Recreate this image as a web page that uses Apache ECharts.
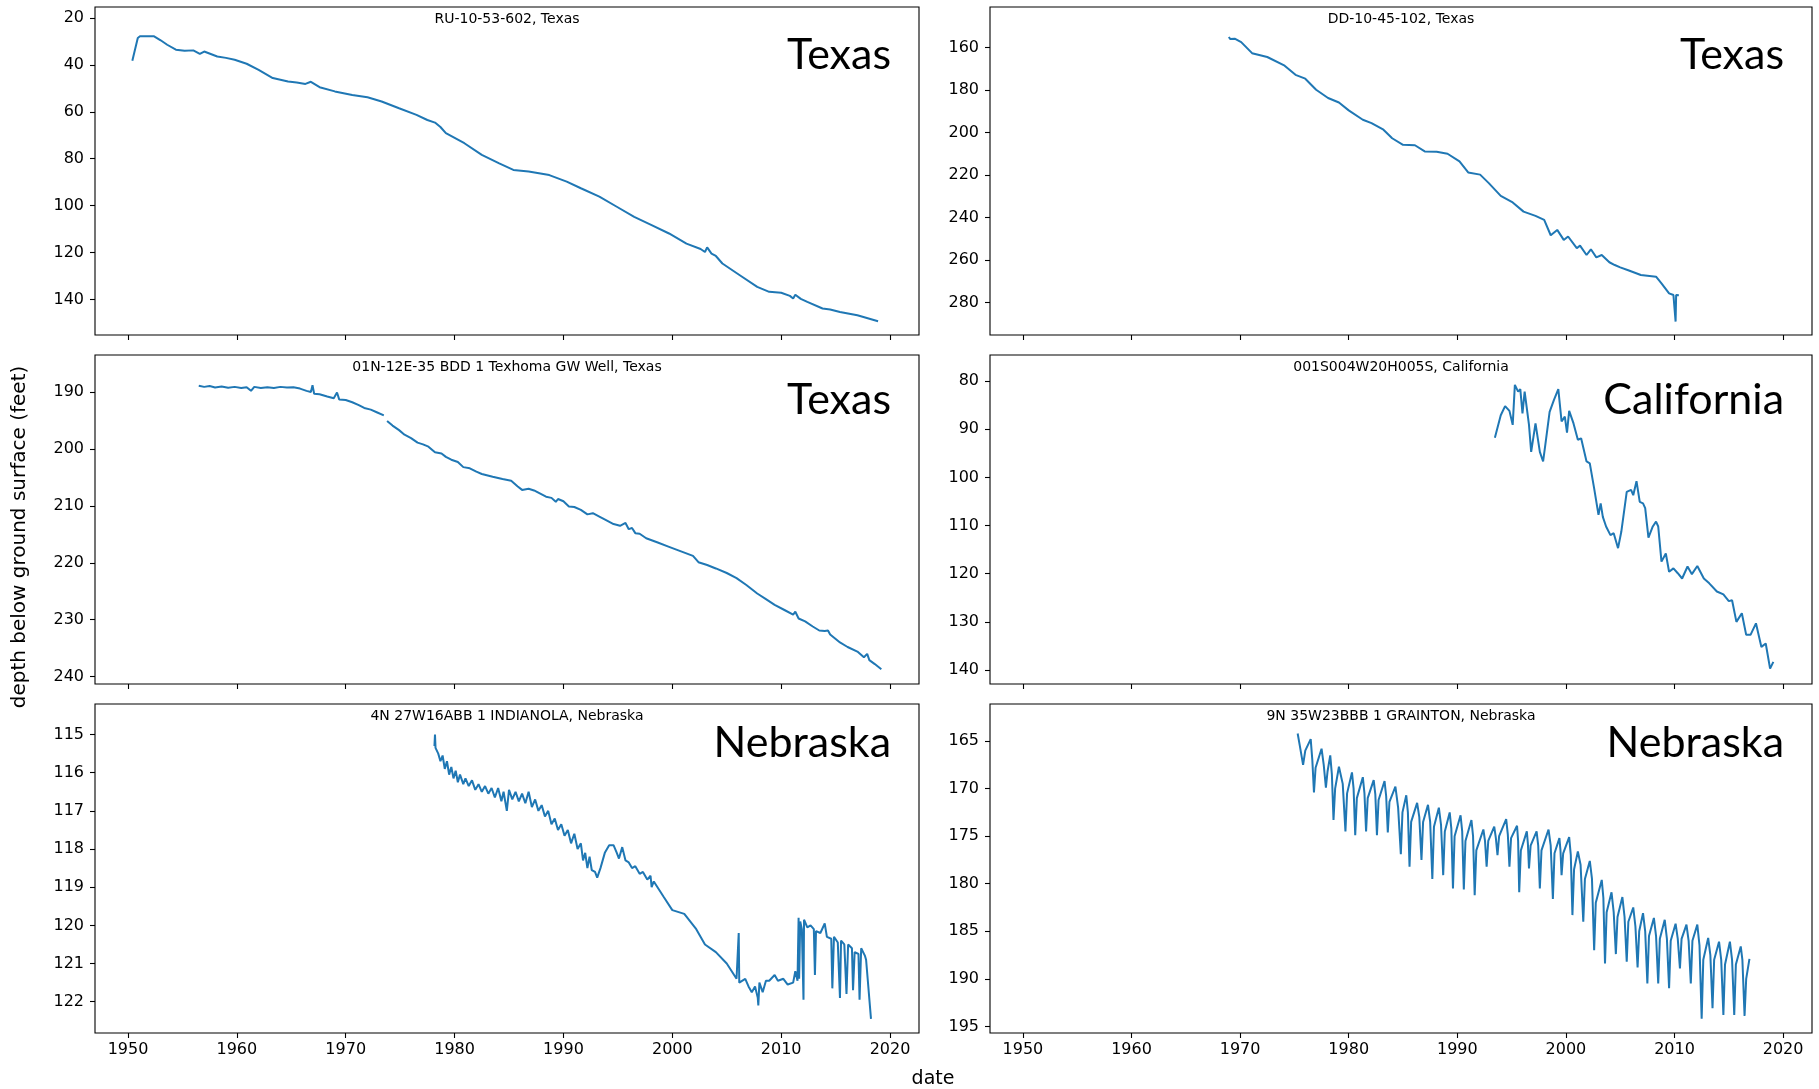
<!DOCTYPE html>
<html>
<head>
<meta charset="utf-8">
<title>Groundwater depth at six wells</title>
<script src="https://cdn.jsdelivr.net/npm/echarts@6/dist/echarts.min.js"></script>
<style>
  html, body { margin: 0; padding: 0; background: #fff; }
  #chart { width: 1819px; height: 1089px; }
</style>
</head>
<body>
<div id="chart"></div>
<script>
// ---- Well records: decimal year and depth below ground surface (feet) ----
const wellNames = [
  'RU-10-53-602, Texas',
  'DD-10-45-102, Texas',
  '01N-12E-35 BDD 1 Texhoma GW Well, Texas',
  '001S004W20H005S, California',
  '4N 27W16ABB 1 INDIANOLA, Nebraska',
  '9N 35W23BBB 1 GRAINTON, Nebraska'
];
const stateNames = ['Texas', 'Texas', 'Texas', 'California', 'Nebraska', 'Nebraska'];

const ruYears = [1950.4,1950.9,1951.1,1952.4,1953.0,1953.6,1954.4,1955.2,1956.0,1956.6,1957.0,1958.2,1959.0,1959.8,1960.9,1962.0,1963.3,1964.0,1964.7,1965.5,1966.3,1966.8,1967.6,1969.0,1970.6,1972.0,1973.3,1974.9,1976.5,1977.5,1978.2,1978.7,1979.2,1980.9,1982.5,1984.1,1985.4,1986.8,1988.7,1990.3,1991.6,1993.3,1994.9,1996.5,1998.1,1999.7,2001.3,2002.6,2003.0,2003.2,2003.6,2004.0,2004.6,2006.2,2007.8,2008.9,2010.0,2010.8,2011.1,2011.3,2011.8,2012.4,2013.8,2014.5,2015.4,2017.0,2018.9];
const ruDepths = [38.2,28.5,27.8,27.8,29.5,31.4,33.5,34.0,33.8,35.3,34.3,36.4,37.0,37.8,39.5,42.1,45.6,46.3,47.1,47.5,48.1,47.2,49.5,51.3,52.8,53.8,55.6,58.5,61.3,63.5,64.6,66.5,69.1,73.4,78.4,82.0,84.8,85.5,87.0,89.8,92.6,96.2,100.5,104.8,108.3,111.9,116.2,118.5,119.8,117.8,120.5,121.5,124.7,129.7,134.7,136.8,137.2,138.5,139.6,138.0,139.8,141.1,143.9,144.3,145.4,146.8,149.3];

const ddYears = [1968.96,1969.1,1969.5,1970.1,1971.1,1972.5,1974.1,1975.1,1976.0,1977.0,1978.1,1979.1,1980.0,1981.3,1982.1,1983.2,1984.0,1985.0,1986.1,1987.0,1988.1,1989.1,1990.2,1991.0,1992.1,1992.9,1994.0,1995.1,1996.1,1997.2,1998.0,1998.6,1999.2,1999.8,2000.2,2001.0,2001.3,2001.9,2002.3,2002.8,2003.3,2004.0,2004.5,2005.0,2005.8,2006.9,2008.3,2008.8,2009.5,2009.9,2010.1,2010.15,2010.4];
const ddDepths = [155.1,156.1,155.9,157.5,162.7,164.5,168.6,172.9,174.7,179.9,183.8,185.9,189.6,194.0,195.6,198.7,202.7,205.8,206.0,208.9,209.1,210.0,213.6,218.8,219.8,223.8,229.8,232.9,237.2,239.2,241.1,248.3,245.8,250.5,248.9,254.4,253.2,257.6,254.9,258.7,257.6,261.0,262.3,263.4,264.9,267.0,267.8,270.9,275.6,276.4,288.9,276.4,276.5];

const texhomaYears = [1956.5,1957.0,1957.5,1958.0,1958.6,1959.2,1959.8,1960.4,1960.9,1961.3,1961.6,1962.2,1962.8,1963.4,1964.0,1964.6,1965.2,1965.8,1966.4,1966.8,1966.95,1967.1,1967.6,1968.3,1968.9,1969.2,1969.4,1970.0,1970.6,1971.2,1971.7,1972.3,1972.9,1973.5,1973.65,1973.8,1974.3,1974.9,1975.4,1976.0,1976.6,1977.1,1977.6,1978.2,1978.8,1979.2,1979.7,1980.3,1980.8,1981.4,1982.0,1982.5,1983.5,1984.4,1985.2,1985.8,1986.2,1986.8,1987.3,1988.4,1988.9,1989.3,1989.5,1990.0,1990.5,1991.0,1991.6,1992.2,1992.7,1993.3,1994.0,1994.6,1995.2,1995.7,1996.0,1996.3,1996.6,1997.0,1997.6,1998.6,1999.7,2000.8,2001.9,2002.4,2003.2,2004.0,2005.0,2005.9,2006.8,2007.8,2008.6,2009.4,2010.3,2011.1,2011.3,2011.6,2012.2,2012.9,2013.5,2014.0,2014.3,2014.5,2015.4,2016.1,2017.0,2017.6,2017.9,2018.1,2018.6,2019.2];
const texhomaDepths = [188.9,189.1,188.95,189.2,189.05,189.25,189.1,189.3,189.15,189.8,189.1,189.3,189.15,189.3,189.1,189.2,189.15,189.4,189.8,190.0,188.8,190.3,190.4,190.8,191.1,190.1,191.3,191.4,191.8,192.3,192.8,193.1,193.6,194.1,'-',195.1,195.9,196.7,197.5,198.1,198.9,199.2,199.6,200.6,200.8,201.4,201.9,202.3,203.2,203.4,204.0,204.4,204.9,205.3,205.6,206.6,207.2,207.0,207.3,208.4,208.6,209.3,208.8,209.2,210.1,210.2,210.7,211.5,211.3,211.9,212.6,213.2,213.5,213.0,214.1,213.9,214.8,214.9,215.7,216.4,217.2,218.0,218.8,219.9,220.4,221.0,221.8,222.7,223.9,225.4,226.4,227.4,228.3,229.1,228.6,229.8,230.3,231.2,231.9,232.0,231.9,232.6,234.0,234.8,235.6,236.6,236.0,237.1,237.8,238.7];

const caYears = [1993.46,1994.0,1994.4,1994.8,1995.1,1995.3,1995.6,1995.8,1996.0,1996.2,1996.6,1996.8,1997.2,1997.6,1997.9,1998.1,1998.5,1998.9,1999.3,1999.6,1999.9,2000.1,2000.3,2000.7,2001.1,2001.4,2001.9,2002.2,2002.6,2003.0,2003.2,2003.4,2003.7,2004.1,2004.4,2004.8,2005.1,2005.6,2006.0,2006.2,2006.5,2006.8,2007.1,2007.3,2007.6,2008.0,2008.3,2008.5,2008.8,2009.2,2009.5,2009.9,2010.3,2010.7,2011.2,2011.6,2012.1,2012.7,2013.2,2013.9,2014.5,2015.0,2015.3,2015.7,2016.2,2016.6,2017.0,2017.5,2018.0,2018.4,2018.8,2019.1];
const caDepths = [91.8,87.1,85.2,86.2,89.1,80.8,82.2,81.7,86.7,82.2,89.1,94.7,88.8,94.7,96.7,93.3,86.4,83.9,81.7,88.4,87.4,90.7,86.2,88.8,92.2,91.9,96.7,97.1,102.3,107.8,105.4,108.2,110.2,112.0,111.6,114.7,111.3,103.0,102.6,103.7,100.8,105.1,105.4,106.4,112.5,110.2,109.2,110.2,117.5,115.8,119.6,118.9,119.9,121.0,118.5,120.1,118.4,121.0,122.0,123.7,124.3,125.7,125.5,130.0,128.2,132.7,132.7,130.3,135.2,134.5,139.7,138.3];

const indianolaYears = [1978.15,1978.2,1978.25,1978.5,1978.7,1978.9,1979.1,1979.3,1979.5,1979.7,1979.9,1980.1,1980.3,1980.5,1980.8,1981.0,1981.3,1981.6,1981.9,1982.2,1982.5,1982.8,1983.1,1983.4,1983.7,1984.0,1984.3,1984.5,1984.8,1985.0,1985.3,1985.6,1985.9,1986.2,1986.5,1986.8,1987.1,1987.4,1987.7,1988.0,1988.3,1988.6,1988.9,1989.2,1989.5,1989.8,1990.1,1990.4,1990.7,1991.0,1991.3,1991.6,1991.8,1992.0,1992.2,1992.4,1992.6,1992.9,1993.1,1993.4,1993.8,1994.2,1994.6,1994.9,1995.1,1995.4,1995.7,1996.0,1996.3,1996.6,1997.0,1997.3,1997.7,1998.0,1998.1,1998.3,1999.2,2000.0,2001.1,2002.2,2003.0,2004.0,2005.0,2005.9,2006.05,2006.1,2006.15,2006.7,2007.0,2007.3,2007.6,2007.85,2007.9,2008.0,2008.3,2008.6,2008.9,2009.4,2009.7,2010.2,2010.6,2011.1,2011.3,2011.5,2011.6,2011.65,2011.75,2011.9,2012.05,2012.1,2012.4,2012.7,2013.0,2013.1,2013.2,2013.6,2014.0,2014.2,2014.6,2014.7,2014.85,2015.2,2015.4,2015.5,2015.8,2016.0,2016.15,2016.5,2016.6,2016.75,2017.1,2017.2,2017.35,2017.7,2017.8,2018.25];
const indianolaDepths = [115.3,115.0,115.35,115.5,115.7,115.55,115.9,115.7,116.05,115.85,116.15,115.95,116.25,116.05,116.3,116.15,116.35,116.2,116.45,116.3,116.5,116.35,116.55,116.4,116.65,116.4,116.75,116.5,117.0,116.45,116.7,116.5,116.75,116.55,116.8,116.5,116.9,116.7,117.0,116.85,117.15,117.0,117.35,117.2,117.5,117.35,117.65,117.5,117.85,117.6,118.0,117.85,118.3,118.1,118.5,118.2,118.55,118.6,118.75,118.5,118.1,117.9,117.9,118.1,118.25,117.95,118.3,118.35,118.5,118.45,118.65,118.6,118.8,118.7,119.0,118.85,119.25,119.6,119.7,120.1,120.5,120.7,121.0,121.4,121.35,120.2,121.5,121.4,121.6,121.75,121.6,121.9,122.1,121.5,121.75,121.45,121.45,121.3,121.45,121.4,121.55,121.5,121.2,121.45,119.8,121.4,119.9,120.1,121.95,119.85,120.05,120.0,120.1,121.3,120.15,120.2,119.95,120.3,120.35,121.65,120.3,120.45,121.9,120.4,120.5,121.8,120.5,120.6,121.7,120.7,120.75,121.95,120.6,120.8,120.9,122.45];

const graintonYears = [1975.3,1975.5,1975.8,1976.0,1976.5,1976.65,1976.8,1976.95,1977.5,1977.7,1977.9,1978.05,1978.3,1978.45,1978.6,1978.75,1979.1,1979.45,1979.7,1979.85,1980.3,1980.45,1980.6,1980.75,1981.3,1981.45,1981.6,1981.75,1982.3,1982.45,1982.6,1982.75,1983.3,1983.45,1983.6,1983.75,1984.3,1984.55,1984.8,1984.95,1985.3,1985.45,1985.6,1985.75,1986.3,1986.5,1986.7,1986.85,1987.3,1987.5,1987.7,1987.85,1988.3,1988.5,1988.7,1988.85,1989.3,1989.45,1989.6,1989.75,1990.3,1990.45,1990.6,1990.75,1991.3,1991.45,1991.6,1991.75,1992.4,1992.55,1992.7,1992.85,1993.4,1993.55,1993.7,1993.85,1994.5,1994.65,1994.8,1994.95,1995.5,1995.6,1995.7,1995.85,1996.4,1996.5,1996.6,1996.75,1997.3,1997.45,1997.6,1997.75,1998.4,1998.6,1998.8,1998.95,1999.4,1999.5,1999.6,1999.75,2000.3,2000.45,2000.6,2000.75,2001.1,2001.35,2001.6,2001.75,2002.2,2002.4,2002.6,2002.75,2003.3,2003.45,2003.6,2003.75,2004.2,2004.4,2004.6,2004.75,2005.2,2005.4,2005.6,2005.75,2006.2,2006.4,2006.6,2006.75,2007.1,2007.3,2007.5,2007.65,2008.1,2008.3,2008.5,2008.65,2009.1,2009.3,2009.5,2009.65,2010.1,2010.3,2010.5,2010.65,2011.1,2011.3,2011.5,2011.65,2012.1,2012.3,2012.5,2012.65,2013.1,2013.3,2013.5,2013.65,2014.1,2014.3,2014.5,2014.65,2015.1,2015.3,2015.5,2015.65,2016.1,2016.25,2016.45,2016.6,2016.9];
const graintonDepths = [164.2,165.5,167.5,166.0,164.8,167.0,170.4,167.8,165.8,167.5,169.9,168.2,166.5,168.5,173.3,170.0,167.7,169.5,174.5,170.5,168.3,170.0,174.9,171.0,168.8,170.5,174.5,171.0,169.1,170.6,174.9,171.2,169.2,170.8,174.6,171.4,169.8,172.0,176.9,172.5,170.7,172.5,178.2,173.5,171.5,173.0,177.5,173.5,171.7,173.5,179.5,174.0,172.0,173.8,179.1,174.5,172.5,174.2,180.5,175.0,172.8,174.5,180.6,175.5,173.3,175.0,181.2,176.5,174.3,175.5,178.2,175.5,174.0,175.2,177.0,175.0,173.2,174.8,178.2,175.2,173.9,175.5,180.9,176.5,174.5,175.8,178.4,176.0,174.5,176.0,180.5,176.5,174.3,176.0,181.6,176.8,175.2,176.5,179.1,176.8,175.1,177.0,183.3,178.5,176.6,178.0,184.0,179.5,177.6,179.5,187.0,182.0,179.6,181.5,188.4,183.0,180.9,183.0,187.4,183.5,181.4,183.5,188.2,184.0,182.5,184.5,188.8,185.0,183.1,185.0,190.5,185.5,183.6,185.5,190.5,185.8,183.8,185.8,191.0,186.0,184.2,185.8,188.9,185.8,184.3,186.0,190.5,186.0,184.3,186.5,194.2,188.0,185.7,187.5,193.1,188.0,186.1,188.0,193.8,188.5,186.1,188.0,193.8,188.5,186.6,188.0,193.9,190.0,187.9];

// ---- Axis extents and tick values ----
const yearTicks = [1950, 1960, 1970, 1980, 1990, 2000, 2010, 2020];
const yearMin = 1946.97, yearMax = 2022.66;
const depthMins = [15.3, 141.0, 183.5, 74.6, 114.2, 161.1];
const depthMaxs = [155.2, 295.2, 241.3, 142.9, 122.82, 195.7];
const depthTicks = [
  [20, 40, 60, 80, 100, 120, 140],
  [160, 180, 200, 220, 240, 260, 280],
  [190, 200, 210, 220, 230, 240],
  [80, 90, 100, 110, 120, 130, 140],
  [115, 116, 117, 118, 119, 120, 121, 122],
  [165, 170, 175, 180, 185, 190, 195]
];

const seriesYears = [ruYears, ddYears, texhomaYears, caYears, indianolaYears, graintonYears];
const seriesDepths = [ruDepths, ddDepths, texhomaDepths, caDepths, indianolaDepths, graintonDepths];

// ---- Panel layout (pixels) ----
const panels = [
  { left: 95,  top: 7,   width: 824, height: 328 },
  { left: 990, top: 7,   width: 822, height: 328 },
  { left: 95,  top: 355, width: 824, height: 329 },
  { left: 990, top: 355, width: 822, height: 329 },
  { left: 95,  top: 704, width: 824, height: 329 },
  { left: 990, top: 704, width: 822, height: 329 }
];
const stateBottomOffsets = [70, 70, 67, 67, 61, 61];

const tickFont = { fontFamily: 'DejaVu Sans', fontSize: 16, color: '#000' };
const plainNumber = v => String(v);

const grids = [], xAxes = [], yAxes = [], series = [], graphics = [];
panels.forEach((p, i) => {
  grids.push({
    left: p.left, top: p.top, width: p.width, height: p.height,
    show: true, borderColor: '#000', borderWidth: 1.1, backgroundColor: '#fff',
    containLabel: false
  });
  const bottomRow = i >= 4;
  xAxes.push({
    gridIndex: i, type: 'value', min: yearMin, max: yearMax,
    axisLine: { show: false },
    splitLine: { show: false },
    axisTick: { show: true, inside: false, length: 5, lineStyle: { color: '#000', width: 1.1 }, customValues: yearTicks },
    axisLabel: Object.assign({ show: bottomRow, margin: 9, customValues: yearTicks, formatter: plainNumber }, tickFont)
  });
  yAxes.push({
    gridIndex: i, type: 'value', inverse: true,
    min: depthMins[i], max: depthMaxs[i],
    axisLine: { show: false },
    splitLine: { show: false },
    axisTick: { show: true, inside: false, length: 5, lineStyle: { color: '#000', width: 1.1 }, customValues: depthTicks[i] },
    axisLabel: Object.assign({ show: true, margin: 11, customValues: depthTicks[i], formatter: plainNumber }, tickFont)
  });
  series.push({
    type: 'line', xAxisIndex: i, yAxisIndex: i,
    data: seriesYears[i].map((yr, k) => [yr, seriesDepths[i][k]]),
    showSymbol: false, symbol: 'none',
    connectNulls: false,
    lineStyle: { color: '#1f77b4', width: 2 },
    itemStyle: { color: '#1f77b4' },
    clip: true
  });
  // well name above each panel's plot area
  graphics.push({
    type: 'text', x: p.left + p.width / 2, y: p.top + 12,
    style: { text: wellNames[i], fill: '#000', font: '14px "DejaVu Sans"', textAlign: 'center', textVerticalAlign: 'middle' },
    z: 10
  });
  // large state name in the upper right corner
  graphics.push({
    type: 'text', x: p.left + p.width - 28, y: p.top + stateBottomOffsets[i],
    style: { text: stateNames[i], fill: '#000', font: '43px Lato', textAlign: 'right', textVerticalAlign: 'bottom' },
    z: 10
  });
});

// shared axis titles
graphics.push({
  type: 'text', x: 20, y: 537, rotation: Math.PI / 2,
  style: { text: 'depth below ground surface (feet)', fill: '#000', font: '20px "DejaVu Sans"', textAlign: 'center', textVerticalAlign: 'middle' }
});
graphics.push({
  type: 'text', x: 933, y: 1079,
  style: { text: 'date', fill: '#000', font: '19px "DejaVu Sans"', textAlign: 'center', textVerticalAlign: 'middle' }
});

const chart = echarts.init(document.getElementById('chart'), null, { renderer: 'canvas' });
chart.setOption({
  animation: false,
  backgroundColor: '#fff',
  grid: grids,
  xAxis: xAxes,
  yAxis: yAxes,
  series: series,
  graphic: graphics
});
</script>
</body>
</html>
